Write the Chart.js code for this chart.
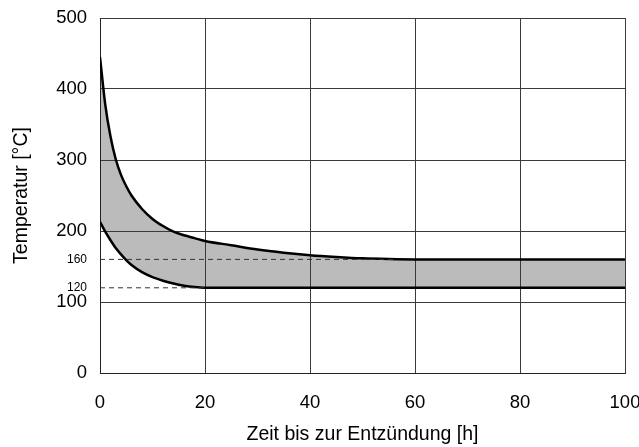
<!DOCTYPE html>
<html lang="de">
<head>
<meta charset="utf-8">
<title>Zündtemperatur</title>
<script src="https://cdn.jsdelivr.net/npm/chart.js@4/dist/chart.umd.min.js"></script>
<style>
    html, body { margin: 0; padding: 0; background: #ffffff; }
    #wrap { width: 639px; height: 447px; position: relative; }
</style>
</head>
<body>
<div id="wrap"><canvas id="chart"></canvas></div>
<script>
// time until ignition [h] and the band limits [°C]
const timeH = [0, 1, 2, 3, 4, 5, 6, 8, 10, 12, 14, 16, 18, 20, 25, 30, 35, 40, 45, 50, 55, 60, 70, 80, 90, 100];
const upperTemp = [445, 378, 333, 301, 279, 263, 250, 231, 217, 207, 199, 194, 190, 186, 180, 174, 169.5, 166, 163.5, 161.5, 160.5, 160, 160, 160, 160, 160];
const lowerTemp = [213, 199, 187, 176, 167, 159, 152, 142, 135, 130, 126, 123, 121, 120, 120, 120, 120, 120, 120, 120, 120, 120, 120, 120, 120, 120];

// y axis labels: regular grid plus the two marker levels
const majorTicks = [0, 100, 200, 300, 400, 500];
const markerTicks = [120, 160];
// dashed helper lines run from t = 0 to where the curve levels off
const markerEnds = [20, 56];

const FONT = "'Liberation Sans', Arial, sans-serif";
const gridColor = '#3a3a3a';

const toPoints = (xs, ys) => xs.map((x, i) => ({ x: x, y: ys[i] }));

const markerSets = markerTicks.map((level, i) => ({
    data: [{ x: 0, y: level }, { x: markerEnds[i], y: level }],
    borderColor: '#333333',
    borderWidth: 1,
    borderDash: [5, 4],
    pointRadius: 0,
    fill: false,
    order: 1
}));

new Chart(document.getElementById('chart'), {
    type: 'line',
    data: {
        datasets: [
            {
                data: toPoints(timeH, upperTemp),
                borderColor: '#000000',
                borderWidth: 2.5,
                backgroundColor: '#bbbbbb',
                fill: { target: 1 },
                pointRadius: 0,
                cubicInterpolationMode: 'monotone',
                order: 2
            },
            {
                data: toPoints(timeH, lowerTemp),
                borderColor: '#000000',
                borderWidth: 2.5,
                fill: false,
                pointRadius: 0,
                cubicInterpolationMode: 'monotone',
                order: 2
            },
            ...markerSets
        ]
    },
    options: {
        responsive: true,
        maintainAspectRatio: false,
        animation: false,
        layout: {
            padding: { top: 18, right: 14, bottom: 0, left: 0 }
        },
        plugins: {
            legend: { display: false },
            tooltip: { enabled: false },
            filler: { drawTime: 'beforeDraw' }
        },
        scales: {
            x: {
                type: 'linear',
                min: 0,
                max: 100,
                grid: { color: gridColor, lineWidth: 1, drawTicks: false },
                border: { color: '#222222', width: 1 },
                ticks: {
                    stepSize: 20,
                    padding: 19,
                    color: '#000000',
                    font: { family: FONT, size: 18.5 },
                    maxRotation: 0
                },
                title: {
                    display: true,
                    text: 'Zeit bis zur Entzündung [h]',
                    color: '#000000',
                    font: { family: FONT, size: 19.5 },
                    padding: { top: 0, bottom: 1 }
                },
                afterFit: function(scale) {
                    scale.height = 74;
                    scale.paddingLeft = 0;
                    scale.paddingRight = 0;
                }
            },
            y: {
                min: 0,
                max: 500,
                afterBuildTicks: function(scale) {
                    scale.ticks = majorTicks.concat(markerTicks)
                        .sort((a, b) => a - b)
                        .map(v => ({ value: v }));
                },
                grid: {
                    drawTicks: false,
                    lineWidth: 1,
                    color: function(ctx) {
                        return ctx.tick && markerTicks.includes(ctx.tick.value) ? 'rgba(0,0,0,0)' : gridColor;
                    }
                },
                border: { color: '#222222', width: 1 },
                ticks: {
                    autoSkip: false,
                    padding: 13,
                    color: '#000000',
                    font: function(ctx) {
                        const small = ctx.tick && markerTicks.includes(ctx.tick.value);
                        return { family: FONT, size: small ? 12 : 18.5 };
                    }
                },
                title: {
                    display: true,
                    text: 'Temperatur [°C]',
                    color: '#000000',
                    font: { family: FONT, size: 19.5 },
                    padding: { top: 10, bottom: 0 }
                },
                afterFit: function(scale) {
                    scale.width = 100;
                    scale.paddingTop = 0;
                    scale.paddingBottom = 0;
                }
            }
        }
    }
});
</script>
</body>
</html>
